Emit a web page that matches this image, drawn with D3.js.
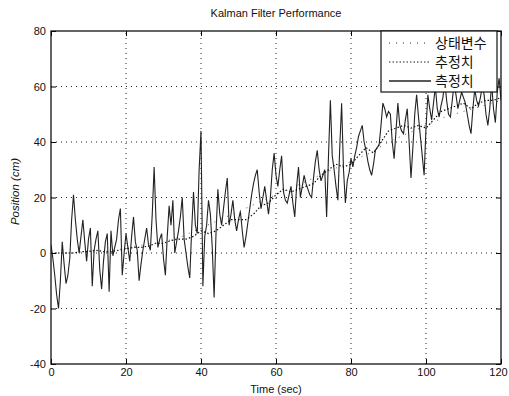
<!DOCTYPE html>
<html>
<head>
<meta charset="utf-8">
<script src="https://cdn.jsdelivr.net/npm/d3@7"></script>
<style>
  body { margin: 0; background: #fff; }
  svg { display: block; }
  .tick text { font-family: Arial, "Liberation Sans", sans-serif; font-size: 11px; fill: #111; }
</style>
</head>
<body>
<div id="chart"></div>
<script>
// measured position, one sample every 0.5 s (0 .. 120 s)
const measured = [
  3, -2, -8, -15, -20, -10, 4, -4, -11, -8, -2, 12, 21, 12, 5, 0, 6, 12, 4, -3,
  5, 9, -12, 1, 5, 8, -6, -13, -3, 4, 7, -14, 8, -1, 2, 5, 12, 16, -8, 0,
  7, 2, -3, 6, 13, 4, 1, -10, -4, 1, 5, 9, 3, 1, 14, 31, 12, 2, 5, 7,
  -2, -8, 6, 17, 10, 19, 0, 4, 8, 13, 20, 5, 0, -5, -9, 8, 22, 10, 7, 30,
  44, -12, 6, 10, 19, 14, 2, -16, 7, 23, 14, 10, 16, 22, 27, 10, 14, 19, 12, 8,
  12, 15, 8, 2, 6, 11, 16, 21, 25, 28, 30, 22, 16, 20, 24, 19, 14, 20, 30, 36,
  28, 24, 30, 35, 22, 19, 18, 21, 24, 18, 13, 24, 31, 20, 24, 28, 25, 23, 21, 20,
  27, 33, 37, 30, 26, 28, 30, 13, 35, 55, 35, 30, 24, 19, 38, 54, 30, 18, 26, 29,
  34, 31, 35, 38, 42, 44, 46, 40, 37, 33, 30, 28, 32, 37, 38, 39, 46, 54, 52, 49,
  51, 50, 40, 34, 44, 54, 46, 44, 43, 48, 52, 40, 27, 38, 50, 57, 49, 42, 35, 28,
  45, 57, 52, 48, 54, 60, 52, 49, 53, 56, 62, 55, 50, 49, 55, 61, 57, 52, 55, 58,
  56, 54, 50, 46, 43, 52, 59, 55, 53, 56, 60, 57, 50, 46, 52, 61, 52, 47, 58, 63,
  55
];
const measuredStep = 0.5;

// Kalman estimate, every 2 s
const estimate = [
  0, 0, 0, 0, 0.5, 0.5, 1, 0.5, 0.5, 1,
  1.5, 2, 2, 2.5, 3.5, 3.5, 4.5, 5, 5, 6,
  8, 7, 8, 10, 12, 12, 12, 14, 17, 18,
  21, 23, 22, 23, 24, 25, 28, 30, 32, 31,
  32, 35, 38, 36, 40, 44, 45, 46, 45, 46,
  45, 48, 51, 52, 53, 54, 52, 54, 55, 55,
  56
];
const estimateStep = 2;

// true state, every 5 s
const state = [0, 0, 0, 1, 2, 3, 4, 6, 9, 12, 15, 18, 21, 24, 27, 30, 33, 36, 40, 43, 46, 49, 51, 53, 55];
const stateStep = 5;

const xTicks = [0, 20, 40, 60, 80, 100, 120];
const yTicks = [-40, -20, 0, 20, 40, 60, 80];
const legendLabels = ["상태변수", "추정치", "측정치"];

const width = 509, height = 396;
const margin = { top: 31, right: 8, bottom: 32, left: 51 };

const svg = d3.select("#chart").append("svg")
  .attr("width", width)
  .attr("height", height);

const x = d3.scaleLinear().domain([0, 120]).range([margin.left, width - margin.right]);
const y = d3.scaleLinear().domain([-40, 80]).range([height - margin.bottom, margin.top]);

// grid
const grid = svg.append("g")
  .attr("stroke", "#222")
  .attr("stroke-width", 1)
  .attr("stroke-dasharray", "1,4");
grid.selectAll("line.gx")
  .data(xTicks.slice(1, -1))
  .join("line")
  .attr("x1", d => x(d)).attr("x2", d => x(d))
  .attr("y1", y(-40)).attr("y2", y(80));
grid.selectAll("line.gy")
  .data(yTicks.slice(1, -1))
  .join("line")
  .attr("class", "gy")
  .attr("x1", x(0)).attr("x2", x(120))
  .attr("y1", d => y(d)).attr("y2", d => y(d));

const line = d3.line().x(d => x(d[0])).y(d => y(d[1]));

const toPts = (arr, step) => arr.map((v, i) => [i * step, v]);

svg.append("clipPath").attr("id", "clip")
  .append("rect")
  .attr("x", x(0)).attr("y", y(80))
  .attr("width", x(120) - x(0)).attr("height", y(-40) - y(80));

const plot = svg.append("g").attr("clip-path", "url(#clip)");

plot.append("path")
  .attr("d", line(toPts(measured, measuredStep)))
  .attr("fill", "none")
  .attr("stroke", "#222")
  .attr("stroke-width", 1.1);

plot.append("path")
  .attr("d", line(toPts(estimate, estimateStep)))
  .attr("fill", "none")
  .attr("stroke", "#111")
  .attr("stroke-width", 1.2)
  .attr("stroke-dasharray", "1.5,2");

plot.append("path")
  .attr("d", line(toPts(state, stateStep)))
  .attr("fill", "none")
  .attr("stroke", "#555")
  .attr("stroke-width", 1)
  .attr("stroke-dasharray", "1,6");

// axes (MATLAB style: ticks inside, box)
const fmt = d => String(d);
const xAxis = d3.axisBottom(x).tickValues(xTicks).tickSize(-5).tickPadding(4).tickFormat(fmt);
const yAxis = d3.axisLeft(y).tickValues(yTicks).tickSize(-5).tickPadding(5).tickFormat(fmt);

svg.append("g")
  .attr("transform", `translate(0,${y(-40)})`)
  .call(xAxis)
  .call(g => g.select(".domain").remove())
  .call(g => g.selectAll(".tick text").filter(d => d === 120).attr("dx", -3));
svg.append("g")
  .attr("transform", `translate(${x(0)},0)`)
  .call(yAxis)
  .call(g => g.select(".domain").remove());
svg.append("g")
  .attr("transform", `translate(0,${y(80)})`)
  .call(d3.axisTop(x).tickValues(xTicks).tickSize(-5).tickFormat(""))
  .call(g => g.select(".domain").remove());
svg.append("g")
  .attr("transform", `translate(${x(120)},0)`)
  .call(d3.axisRight(y).tickValues(yTicks).tickSize(-5).tickFormat(""))
  .call(g => g.select(".domain").remove());

svg.append("rect")
  .attr("x", x(0)).attr("y", y(80))
  .attr("width", x(120) - x(0)).attr("height", y(-40) - y(80))
  .attr("fill", "none")
  .attr("stroke", "#111")
  .attr("stroke-width", 1.3);

// title and axis labels
svg.append("text")
  .attr("x", (x(0) + x(120)) / 2).attr("y", 17)
  .attr("text-anchor", "middle")
  .attr("font-family", "Arial, 'Liberation Sans', sans-serif")
  .attr("font-size", 11)
  .attr("fill", "#111")
  .text("Kalman Filter Performance");

svg.append("text")
  .attr("x", (x(0) + x(120)) / 2).attr("y", 393)
  .attr("text-anchor", "middle")
  .attr("font-family", "Arial, 'Liberation Sans', sans-serif")
  .attr("font-size", 11)
  .attr("fill", "#111")
  .text("Time (sec)");

svg.append("text")
  .attr("transform", `translate(19,${(y(-40) + y(80)) / 2 - 6}) rotate(-90)`)
  .attr("text-anchor", "middle")
  .attr("font-family", "Arial, 'Liberation Sans', sans-serif")
  .attr("font-size", 11.5)
  .attr("font-style", "italic")
  .attr("fill", "#111")
  .text("Position (cm)");

// legend
const lg = svg.append("g").attr("transform", "translate(381,31)");
lg.append("rect")
  .attr("width", 116).attr("height", 61)
  .attr("fill", "#fff")
  .attr("stroke", "#111")
  .attr("stroke-width", 1.2);

const dashes = ["1,6", "1.5,2", null];
const widths = [1, 1.2, 1.3];
legendLabels.forEach((t, i) => {
  const yy = 12 + i * 19;
  lg.append("line")
    .attr("x1", 8).attr("x2", 50)
    .attr("y1", yy).attr("y2", yy)
    .attr("stroke", "#222")
    .attr("stroke-width", widths[i])
    .attr("stroke-dasharray", dashes[i]);
  lg.append("text")
    .attr("x", 54).attr("y", yy + 5)
    .attr("font-family", "'Noto Sans CJK KR', sans-serif")
    .attr("font-size", 14)
    .attr("fill", "#111")
    .text(t);
});
</script>
</body>
</html>
